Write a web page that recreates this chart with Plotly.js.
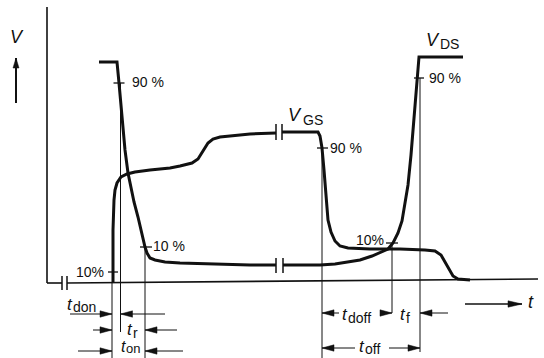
<!DOCTYPE html>
<html><head><meta charset="utf-8">
<script src="https://cdn.plot.ly/plotly-3.0.1.min.js"></script>
<style>html,body{margin:0;padding:0;background:#fff}#chart{width:544px;height:358px}</style>
</head><body><div id="chart"></div>
<script>
// Time t and voltage V in drawing units (V = 0 on the baseline).
const vdsT = [99,117,119,122,125,128,131,134,138,141,143,145,147,150,155,165,180,210,250,276,null,
              283,320,335,350,360,372,382,388,393,398,402,405,408,411,414,417,419,463];
const vdsV = [220,220,199,162,132,109,94,80,65,52,42,35,29,24,22,20,19,18,17,17,null,
              17,17,18,20,22,26,30,33,39,49,61,77,97,127,167,204,225,225];

const vgsT = [113,113,114,115,117,121,127,135,150,170,180,192,198,203,208,213,220,230,250,276,null,
              282,318,320,322,324,326,328,331,335,340,348,370,400,425,435,441,445,449,453,458,470];
const vgsV = [0,52,82,92,99,105,108,110,112,114,116,119,123,131,139,143,145,146,148,149,null,
              150,150,146,134,112,82,62,50,41,36,34,33,33,32,31,27,20,12,6,3,2];

// Switching instants (10 % / 90 % crossings) and their levels
const markT     = [112, 120.5, 145, 322, 392, 420];
const markLevel = [10, 199, 35, 134, 39, 204];
const markLabel = ['10%', '90 %', '10 %', '90 %', '10%', '90 %'];
// interval names
const intervals = ['don', 'r', 'on', 'doff', 'f', 'off'];

const INK = '#111';
const FONT = 'Liberation Sans, Arial, sans-serif';

const traces = [
  {x: vdsT, y: vdsV, mode: 'lines', line: {color: INK, width: 3}, connectgaps: false, hoverinfo: 'skip'},
  {x: vgsT, y: vgsV, mode: 'lines', line: {color: INK, width: 3}, connectgaps: false, hoverinfo: 'skip'}
];

const shapes = [];
function seg(x0, y0, x1, y1, w) {
  shapes.push({type: 'line', xref: 'x', yref: 'y', x0, y0, x1, y1, line: {color: INK, width: w || 1}});
}
function head(tx, ty, fx, fy, L, W) {
  L = L || 12; W = W || 3.2;
  const dx = tx - fx, dy = ty - fy, n = Math.hypot(dx, dy);
  const ux = dx / n, uy = dy / n, bx = tx - ux * L, by = ty - uy * L;
  const px = -uy * W, py = ux * W;
  shapes.push({type: 'path', xref: 'x', yref: 'y',
    path: `M${tx},${ty} L${bx + px},${by + py} L${bx - px},${by - py} Z`,
    fillcolor: INK, line: {color: INK, width: 0.5}});
}
function arrow(fx, fy, tx, ty, w, L, W) { seg(fx, fy, tx, ty, w || 1); head(tx, ty, fx, fy, L, W); }

// axes
seg(47, 275, 47, -1, 1.6);
seg(47, -1, 62, -1, 1.6);
seg(67, -1, 538, 3, 1.6);
// breaks
seg(62, -8, 62, 6, 1.5); seg(67, -8, 67, 6, 1.5);
seg(276, 142, 276, 158, 1.5); seg(282, 142, 282, 158, 1.5);
seg(276, 9, 276, 24, 1.5); seg(283, 9, 283, 24, 1.5);

// vertical marker lines
const markTop = [0, 199, 35, 134, 39, 204];
const markBottom = [-76, -50, -76, -76, -31, -70];
markT.forEach((t, i) => seg(t, markTop[i], t, markBottom[i], 1));
// tick marks
const tickHalf = [[4, 6], [7, 4], [5, 7], [5, 6], [6, 6], [6, 4]];
markT.forEach((t, i) => seg(t - tickHalf[i][0], markLevel[i], t + tickHalf[i][1], markLevel[i], 1.3));

// interval arrows
arrow(70, -32, 112, -32);
arrow(165, -32, 120.5, -32);
arrow(93, -48, 112, -48);
arrow(177, -48, 145, -48);
arrow(78, -69, 112, -69);
arrow(183, -69, 145, -69);
arrow(339, -31, 322, -31);
arrow(380, -31, 392, -31);
arrow(448, -31, 420, -31);
arrow(355, -66, 322, -66);
arrow(389, -66, 420, -66);
// axis arrows
arrow(465, -22, 522, -22, 1.3, 14, 3.2);
arrow(16, 179, 16, 224, 2, 10, 3);

const ann = [];
function txt(x, y, s, size, italic) {
  ann.push({x, y, xref: 'x', yref: 'y', text: italic ? '<i>' + s + '</i>' : s, showarrow: false,
    xanchor: 'center', yanchor: 'middle', font: {family: FONT, size, color: INK}});
}
// level labels
const labelPos = [[90, 10], [147.5, 200], [169, 36], [345.5, 134], [370, 42], [444.5, 204]];
markLabel.forEach((s, i) => txt(labelPos[i][0], labelPos[i][1], s, 14));
// signal names
txt(295, 167, 'V', 18, true); txt(312.5, 162, 'GS', 14);
txt(433, 242, 'V', 18, true); txt(449.5, 238.5, 'DS', 14);
txt(17, 245.5, 'V', 18, true);
txt(531, -20, 't', 18, true);
// interval labels
const tPos   = [[70, -22], [130, -47], [123, -64], [344.5, -32], [403, -32], [362, -64]];
const tSize  = [17, 17, 16, 17, 17, 17];
const subPos = [[84, -25], [135, -51], [133, -66.5], [359.5, -36], [407.5, -36], [372, -67]];
const subSize = [14, 14, 13, 14, 14, 14];
intervals.forEach((s, i) => {
  txt(tPos[i][0], tPos[i][1], 't', tSize[i], true);
  txt(subPos[i][0], subPos[i][1], s, subSize[i]);
});

const layout = {
  width: 544, height: 358, margin: {l: 0, r: 0, t: 0, b: 0},
  paper_bgcolor: '#fff', plot_bgcolor: '#fff', showlegend: false,
  xaxis: {range: [0, 544], visible: false, fixedrange: true},
  yaxis: {range: [-76, 282], visible: false, fixedrange: true},
  shapes, annotations: ann
};
Plotly.newPlot('chart', traces, layout, {staticPlot: true, displayModeBar: false});
</script></body></html>
